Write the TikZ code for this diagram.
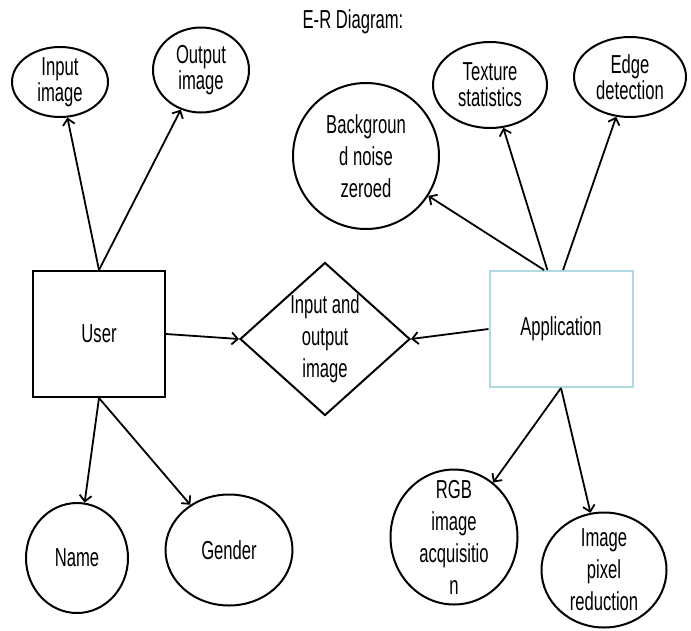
\documentclass[tikz,border=0pt]{standalone}
\usepackage{fontspec}
\setmainfont[FakeStretch=0.64]{Liberation Sans}
\usetikzlibrary{shapes.geometric,arrows.meta}
\definecolor{appedge}{RGB}{176,218,224}
\begin{document}
\begin{tikzpicture}[x=1pt,y=-1pt]

    \tikzset{
      entity/.style={
        draw,
        rectangle,
        line width=2pt,
        inner sep=0pt,
        font=\fontsize{26}{32}\selectfont,
      },
      relation/.style={
        draw,
        diamond,
        line width=2pt,
        inner sep=0pt,
        aspect=1.1,
        align=center,
        font=\fontsize{26}{32}\selectfont,
      },
      attr/.style={
        draw,
        ellipse,
        line width=2pt,
        inner sep=0pt,
      },
      txt/.style={
        align=center,
        inner sep=0pt,
        font=\fontsize{26}{32}\selectfont,
      },
      tighttxt/.style={
        txt,
        font=\fontsize{26}{26}\selectfont,
      },
      link/.style={
        line width=1.8pt,
        -{Straight Barb[length=6pt,width=12pt,line width=1.8pt]},
      },
    }
    \useasboundingbox (0,0) rectangle (691,630);

	 \node[txt] (title) at (353,22) {E-R Diagram:};

	 \node[entity, minimum width=132pt, minimum height=126pt] (user) at (99,334) {User};
	
	 \node[entity, draw=appedge, minimum width=143pt, minimum height=116pt] (app) at (561,329) {Application};
	
	 \node[relation, minimum width=170pt, minimum height=153pt] (rel) at (325,339) {Input and\\output\\image};
	
	 \node[attr, minimum width=96pt, minimum height=70pt, label={[tighttxt]center:Input\\image}] (inimg) at (60,82) {};
	
	 \node[attr, minimum width=96pt, minimum height=85pt, label={[tighttxt]center:Output\\image}] (outimg) at (201,70) {};
	
	 \node[attr, minimum width=146pt, minimum height=146pt, label={[txt]center:Backgroun\\d noise\\zeroed}] (bgnoise) at (366,156) {};
	
	 \node[attr, minimum width=114pt, minimum height=86pt, label={[tighttxt]center:Texture\\statistics}] (texstat) at (490,85) {};
	
	 \node[attr, minimum width=112pt, minimum height=80pt, label={[tighttxt]center:Edge\\detection}] (edgedet) at (630,77) {};
	
	 \node[attr, minimum width=102pt, minimum height=110pt, label={[txt]center:Name}] (name) at (77,558) {};
	
	 \node[attr, minimum width=127pt, minimum height=111pt, label={[txt]center:Gender}] (gender) at (229,550) {};
	
	 \node[attr, minimum width=127pt, minimum height=135pt, label={[txt]center:RGB\\image\\acquisitio\\n}] (rgbacq) at (454,537) {};
	
	 \node[attr, minimum width=125pt, minimum height=115pt, label={[txt]center:Image\\pixel\\reduction}] (pixred) at (604,570) {};

	 \draw[link] (user.north) -- (inimg);
	 \draw[link] (user.north) -- (outimg);
	 \draw[link] (user.east) -- (rel.west);
	 \draw[link] (user.south) -- (name);
	 \draw[link] (user.south) -- (gender);

	 \draw[link] (app.west) -- (rel.east);
	 \draw[link] (app.106) -- (bgnoise);
	 \draw[link] (app.103) -- (texstat);
	 \draw[link] (app.88) -- (edgedet);
	 \draw[link] (app.south) -- (rgbacq);
	 \draw[link] (app.south) -- (pixred);

\end{tikzpicture}
\end{document}
